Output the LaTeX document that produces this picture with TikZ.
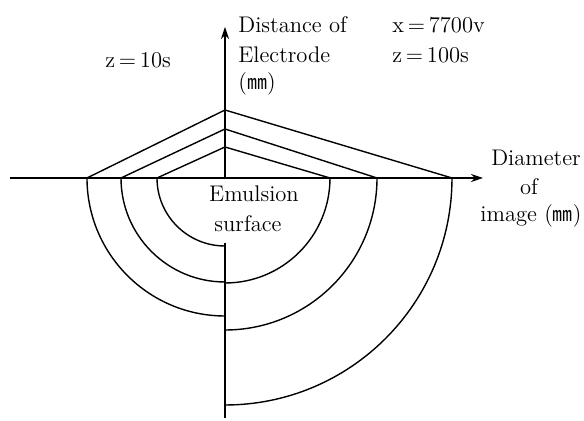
\documentclass[tikz,border=0pt]{standalone}
\usepackage{fontspec}
\usetikzlibrary{arrows.meta}
\newfontfamily\cjkfont{Noto Sans CJK JP}
\newcommand\unitmm{{\cjkfont\fontsize{10}{12}\selectfont ㎜}}
\tikzset{
  curve/.style={line width=0.7pt},
  axis/.style={curve, -{Stealth[length=6pt,width=4pt]}},
  txt/.style={font=\fontsize{11.3}{15}\selectfont, inner sep=0pt},
}

\begin{document}
\begin{tikzpicture}[x=0.5pt,y=0.5pt]
    \useasboundingbox (-225,178) rectangle (359,-243);
    \coordinate (O) at (0,0);
    \coordinate (xstart) at (-215,0);
    \coordinate (xend) at (258,0);
    \coordinate (yend) at (0,151);
    \coordinate (stemtop) at (0,-65);
    \coordinate (stembot) at (0,-240);
    \draw[axis] (xstart) -- (xend);
    \draw[axis] (O) -- (yend);
    \draw[curve] (stemtop) -- (stembot);
    \coordinate (apexA) at (0,68);
    \coordinate (apexB) at (0,49);
    \coordinate (apexC) at (0,31);
    \draw[curve] (-138,0) -- (apexA) -- (227,0);
    \draw[curve] (-104,0) -- (apexB) -- (152,0);
    \draw[curve] (-68,0) -- (apexC) -- (105,0);
    \draw[curve] (-138,0) arc[start angle=180, end angle=270, radius=138];
    \draw[curve] (-104,0) arc[start angle=180, end angle=270, radius=104];
    \draw[curve] (-68,0) arc[start angle=180, end angle=270, radius=68];
    \draw[curve] (227,0) arc[start angle=0, end angle=-90, radius=227];
    \draw[curve] (152,0) arc[start angle=0, end angle=-90, radius=152];
    \draw[curve] (105,0) arc[start angle=0, end angle=-90, radius=105];
    \node[txt, anchor=base west] (dist) at (13,145) {Distance of};
    \node[txt, anchor=base west] (elec) at (13,115) {Electrode};
    \node[txt, anchor=base west] (distunit) at (13,88) {(\unitmm)};
    \node[txt, anchor=base west] (volt) at (167,145) {x\,=\,7700v};
    \node[txt, anchor=base west] (tlong) at (167,115) {z\,=\,100s};
    \node[txt, anchor=base west] (tshort) at (-120,110) {z\,=\,10s};
    \node[txt, anchor=base] (emul) at (29,-24) {Emulsion};
    \node[txt, anchor=base] (surf) at (23,-54) {surface};
    \node[txt, anchor=base] (diam) at (311,12) {Diameter};
    \node[txt, anchor=base] (dof) at (304,-17) {of};
    \node[txt, anchor=base] (dimg) at (306,-44) {image (\unitmm)};
\end{tikzpicture}
\end{document}
